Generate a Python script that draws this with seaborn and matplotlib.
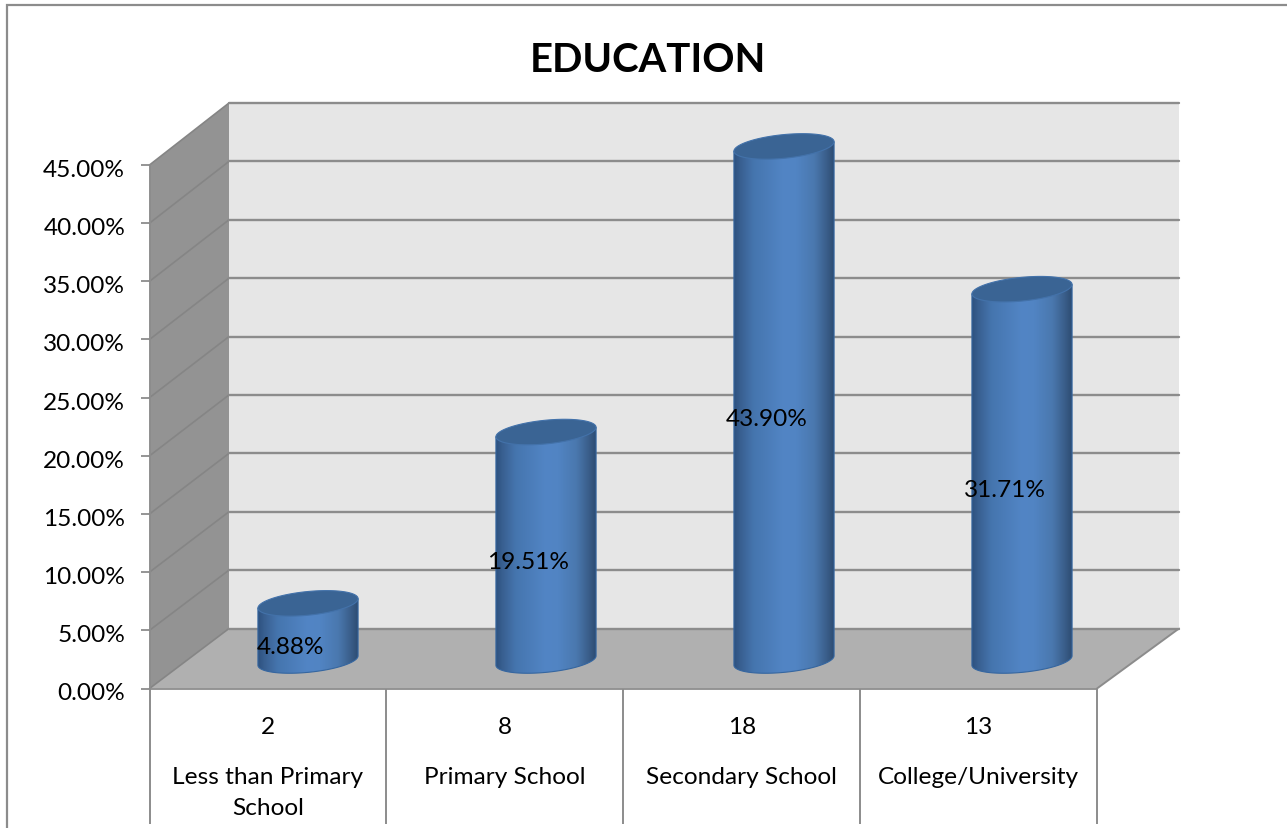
import numpy as np
import matplotlib
matplotlib.use("Agg")
import matplotlib.pyplot as plt
import seaborn as sns
from matplotlib.colors import LinearSegmentedColormap
from matplotlib.patches import Polygon
from matplotlib.transforms import ScaledTranslation

categories = ["Less than Primary\nSchool", "Primary School", "Secondary School", "College/University"]
counts = [2, 8, 18, 13]
shares = [4.88, 19.51, 43.90, 31.71]
y_ticks = [0, 5, 10, 15, 20, 25, 30, 35, 40, 45]
title = "EDUCATION"

W, H = 1287, 829
LINE = "#8C8C8C"
TEXT_SIZE = 17.6

sns.set_theme(style="white")
plt.rcParams["font.family"] = ["Lato", "DejaVu Sans"]

fig = plt.figure(figsize=(W / 100, H / 100), dpi=100, facecolor="white")


def pixel_axes(x0, x1, y_top, y_bottom, zorder):
    a = fig.add_axes([x0 / W, (H - y_bottom) / H, (x1 - x0) / W, (y_bottom - y_top) / H])
    a.set_zorder(zorder)
    a.patch.set_alpha(0)
    return a


# Page layer for the outer frame, the side wall, the floor and the table rules
scene = pixel_axes(0, W, 0, H, 0)
scene.set_xlim(0, W)
scene.set_ylim(H, 0)
scene.axis("off")

# Back wall of the box, with the horizontal gridlines
back = pixel_axes(229, 1179, 104, 629.5, 1)
back.patch.set_alpha(1)
back.set_facecolor("#E6E6E6")
back.set_xlim(0, 4)
back.set_ylim(0, 45)
back.set_xticks([])
back.set_yticks(y_ticks)
back.tick_params(left=False, labelleft=False)
back.grid(True, axis="y", color=LINE, lw=1.7)
for line in back.get_ygridlines():
    line.set_clip_on(False)
sns.despine(ax=back, left=True, bottom=True)

# Front plane carrying the value axis and the category table
ax = pixel_axes(149.5, 1097, 166, 689.5, 2)
ax.set_xlim(0, 4)
ax.set_ylim(0, 45)
ax.set_yticks(y_ticks)
ax.set_yticklabels([f"{v:.2f}%" for v in y_ticks], fontsize=TEXT_SIZE, color="black")
ax.tick_params(axis="y", left=True, length=6.5, width=1.3, color=LINE, pad=11)
# The value labels sit slightly below their tick marks
nudge = ScaledTranslation(0, -1.8 / 72, fig.dpi_scale_trans)
for label in ax.get_yticklabels():
    label.set_transform(label.get_transform() + nudge)
ax.set_xticks([i + 0.5 for i in range(4)])
ax.set_xticklabels(categories, fontsize=TEXT_SIZE, color="black", linespacing=1.6)
ax.tick_params(axis="x", bottom=False, pad=49.5)
for side in ("top", "right"):
    ax.spines[side].set_visible(False)
for side in ("left", "bottom"):
    ax.spines[side].set_color(LINE)
    ax.spines[side].set_linewidth(1.3)
for i, n in enumerate(counts):
    ax.annotate(str(n), xy=(i + 0.5, 0), xytext=(0, -38 * 0.72), textcoords="offset points",
                ha="center", va="center", fontsize=TEXT_SIZE, color="black", annotation_clip=False)
fig.canvas.draw()


def to_scene(a, x, y):
    return scene.transData.inverted().transform(a.transData.transform((x, y)))


# Side wall and floor joining the front plane to the back wall
scene.add_patch(Polygon([to_scene(ax, 0, 0), to_scene(ax, 0, 45), to_scene(back, 0, 45), to_scene(back, 0, 0)],
                        closed=True, facecolor="#939393", edgecolor="none"))
scene.add_patch(Polygon([to_scene(ax, 0, 0), to_scene(ax, 4, 0), to_scene(back, 4, 0), to_scene(back, 0, 0)],
                        closed=True, facecolor="#B0B0B0", edgecolor="none"))
for v in y_ticks:
    p, q = to_scene(ax, 0, v), to_scene(back, 0, v)
    scene.plot([p[0], q[0]], [p[1], q[1]], color="#858585", lw=1.2, solid_capstyle="round")
p, q = to_scene(ax, 4, 0), to_scene(back, 4, 0)
scene.plot([p[0], q[0]], [p[1], q[1]], color=LINE, lw=1.4)

# Rules of the category table below the box
for i in range(5):
    p = to_scene(ax, i, 0)
    scene.plot([p[0], p[0]], [p[1], 825], color=LINE, lw=1.4, solid_capstyle="butt")

# Outer chart frame: top and left edges only
scene.plot([W, 7, 7], [6, 6, H], color=LINE, lw=1.6, solid_joinstyle="miter")

scene.text(647.5, 60.5, title, ha="center", va="center", fontsize=28.8, fontweight="bold", color="black")

# Mid-depth plane holding the cylinders
PX_X = 238.0
PX_Y = 11.71
bar_ax = pixel_axes(189, 1141, 661.5 - 48 * PX_Y, 661.5 + 3 * PX_Y, 3)
sns.barplot(x=categories, y=shares, ax=bar_ax, color="#4A7DBA", saturation=1, width=100 / PX_X, zorder=2)
bar_ax.set_xlim(-0.5, 3.5)
bar_ax.set_ylim(-3, 48)
bar_ax.axis("off")

shade = LinearSegmentedColormap.from_list(
    "cylinder",
    [(0.0, "#2C4F7C"), (0.07, "#385F90"), (0.2, "#4575AE"), (0.5, "#5285C5"),
     (0.62, "#5184C3"), (0.8, "#4A78AE"), (0.92, "#3A5E8A"), (1.0, "#2C4A70")],
)

# Tilted ellipse outline of a cylinder cap, in pixels around its centre
A, B, TILT = 50.3, 11.8, np.radians(5.7)
t = np.linspace(0, 2 * np.pi, 241)[:-1]
cap_dx = A * np.cos(t) * np.cos(TILT) - B * np.sin(t) * np.sin(TILT)
cap_dy = A * np.cos(t) * np.sin(TILT) + B * np.sin(t) * np.cos(TILT)
i_right = int(np.argmax(cap_dx))
order = np.roll(np.arange(t.size), -i_right)
dx, dy = cap_dx[order], cap_dy[order]
i_left = int(np.argmin(dx))
# Lower half of the outline, running from the right end back to the left end
lower_x = np.r_[dx[0], dx[:i_left - 1:-1]]
lower_y = np.r_[dy[0], dy[:i_left - 1:-1]]

for bar, value in zip(bar_ax.patches, shares):
    cx = bar.get_x() + bar.get_width() / 2
    top = bar.get_height()
    # Side of the cylinder: both ends of the top cap, then the lower arc of the base
    outline = np.vstack([
        [cx + dx[i_left] / PX_X, top + dy[i_left] / PX_Y],
        [cx + dx[0] / PX_X, top + dy[0] / PX_Y],
        np.c_[cx + lower_x / PX_X, lower_y / PX_Y],
    ])
    body = Polygon(outline, closed=True, transform=bar_ax.transData, facecolor="none",
                   edgecolor="#3566A0", lw=0.8, zorder=3.1)
    bar_ax.add_patch(body)
    bar.set_clip_path(body)
    img = bar_ax.imshow(np.linspace(0, 1, 256)[None, :], cmap=shade, aspect="auto", zorder=3,
                        extent=[cx - 51 / PX_X, cx + 51 / PX_X, -3, top + 3], interpolation="bilinear")
    img.set_clip_path(body)
    cap = np.c_[cx + cap_dx / PX_X, top + cap_dy / PX_Y]
    bar_ax.add_patch(Polygon(cap, closed=True, facecolor="#3A6494", edgecolor="#4372AA", lw=0.8, zorder=4))
    bar_ax.annotate(f"{value:.2f}%", xy=(cx, value / 2), xytext=(-17.5 * 0.72, -15 * 0.72),
                    textcoords="offset points", ha="center", va="center", fontsize=TEXT_SIZE,
                    color="black", zorder=5)
bar_ax.set_xlim(-0.5, 3.5)
bar_ax.set_ylim(-3, 48)

fig.savefig("out.png", dpi=100)
